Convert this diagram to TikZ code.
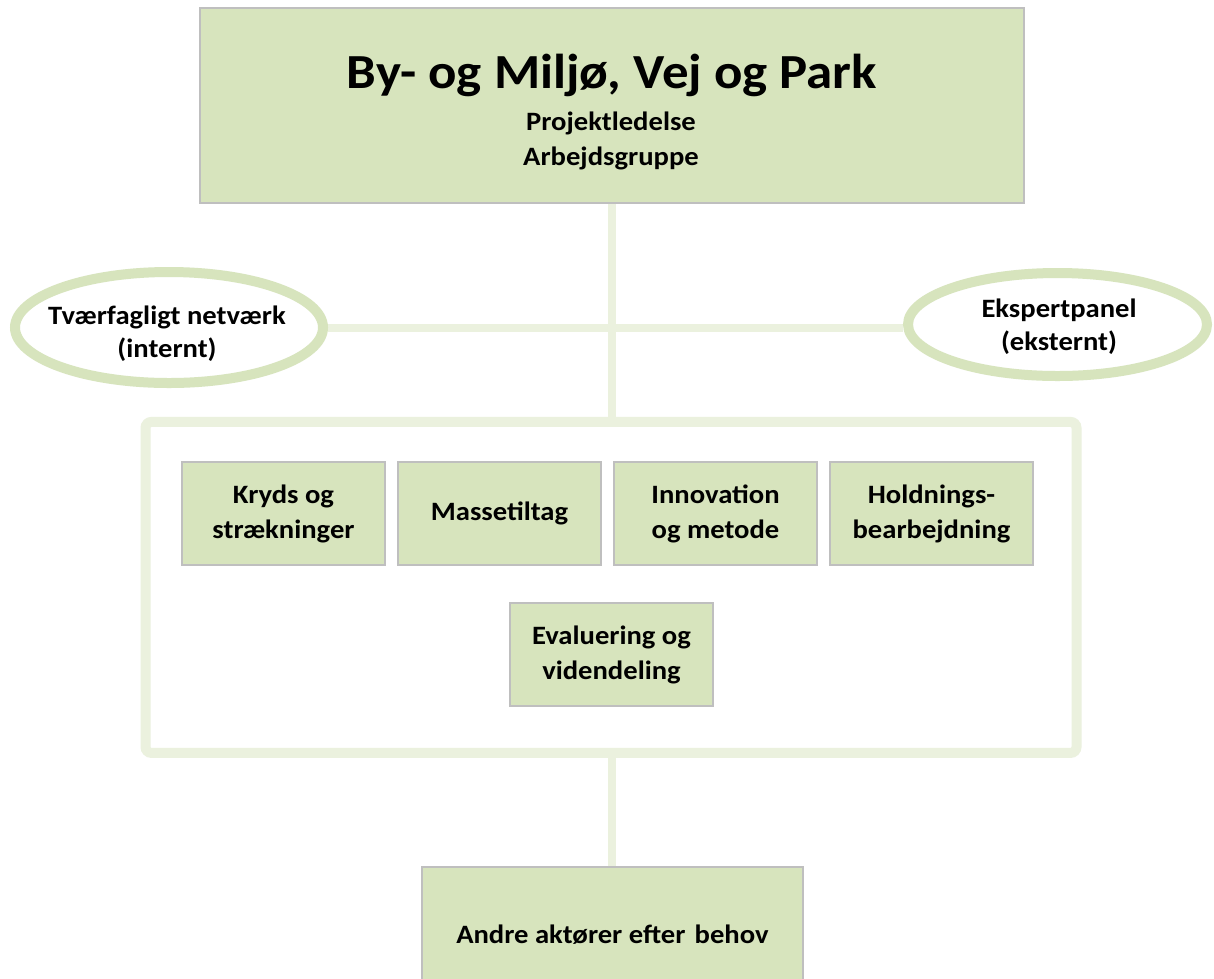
\documentclass[tikz,border=0pt]{standalone}
\usepackage{fontspec}
\setmainfont{Carlito}[FakeStretch=1.08]
\usetikzlibrary{shapes.geometric,backgrounds}
\pgfdeclarelayer{paper}
\pgfsetlayers{paper,background,main}
\definecolor{boxfill}{HTML}{D7E4BD}
\definecolor{linec}{HTML}{EBF1DE}
\definecolor{boxedge}{HTML}{BFBFBF}
\tikzset{
  gbox/.style={draw=boxedge, line width=1.3pt, fill=boxfill, inner sep=0pt, align=center,
    font=\bfseries\fontsize{26.5}{35}\selectfont},
  smallbox/.style={gbox, minimum width=203pt, minimum height=103pt},
  conn/.style={draw=linec, line width=8pt},
  oval/.style={ellipse, draw=boxfill, line width=10pt, fill=white, inner sep=0pt},
  txt/.style={anchor=base, inner sep=0pt, font=\bfseries\fontsize{26.5}{33}\selectfont},
}
\begin{document}
\begin{tikzpicture}[x=1pt,y=-1pt]
\begin{pgfonlayer}{paper}
\fill[white] (0,0) rectangle (1214,978);
\end{pgfonlayer}
\useasboundingbox (0,0) rectangle (1214,978);
% top box
\node[gbox, minimum width=824pt, minimum height=195pt] (top) at (612,105.5) {};
\node[txt, font=\bfseries\fontsize{49}{58}\selectfont] (title) at (612,88) {By- og Miljø, Vej og Park};
\node[txt] (sub1) at (611,130) {Projektledelse};
\node[txt] (sub2) at (611,165) {Arbejdsgruppe};
% ellipses
\node[oval, minimum width=308pt, minimum height=111pt] (left) at (169,327.5) {};
\node[txt] (lt1) at (167,324) {Tværfagligt netværk};
\node[txt] (lt2) at (167,357) {(internt)};
\node[oval, minimum width=299pt, minimum height=103pt] (right) at (1057.5,324.5) {};
\node[txt] (rt1) at (1059,317) {Ekspertpanel};
\node[txt] (rt2) at (1059,350) {(eksternt)};
% container
\node[draw=linec, line width=10pt, rounded corners=6pt, fill=white, inner sep=0pt,
      minimum width=931pt, minimum height=331pt] (cont) at (611,587.4) {};
% small boxes
\node[smallbox] (b1) at (283.5,513.5) {Kryds og\\strækninger};
\node[smallbox] (b2) at (499.5,513.5) {Massetiltag};
\node[smallbox] (b3) at (715.5,513.5) {Innovation\\og metode};
\node[smallbox] (b4) at (931.5,513.5) {Holdnings-\\bearbejdning};
\node[smallbox] (b5) at (611.5,654.5) {Evaluering og\\videndeling};
% bottom box
\node[gbox, minimum width=381pt, minimum height=125pt] (bot) at (612.5,929.5) {};
\node[txt] (andre) at (612.5,943) {Andre aktører efter\hspace{0.35em}behov};
% connectors
\begin{scope}[on background layer]
\draw[conn] (top.south -| 611.7,0) -- (cont.north -| 611.7,0);
\draw[conn] (left.east |- 0,328) -- (right.west |- 0,328);
\draw[conn] (cont.south -| 611.7,0) -- (bot.north -| 611.7,0);
\end{scope}
\end{tikzpicture}
\end{document}
